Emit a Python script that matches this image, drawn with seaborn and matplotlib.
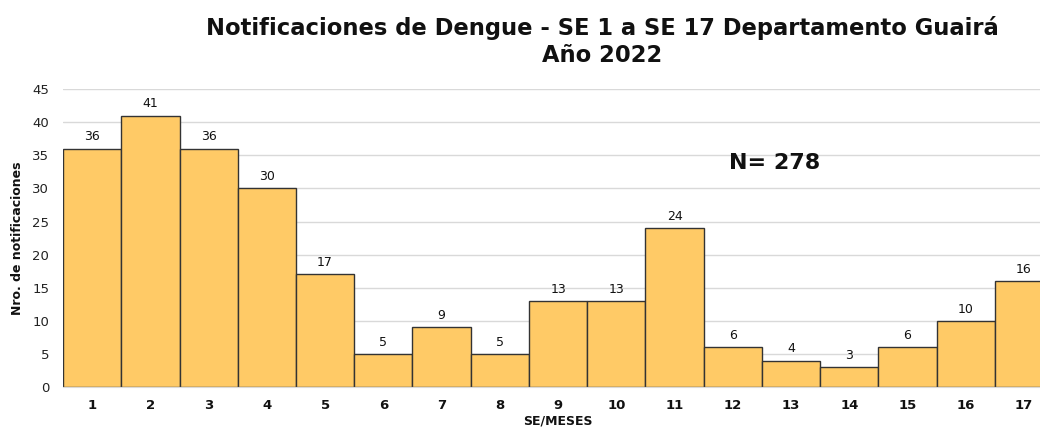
import matplotlib
matplotlib.use('Agg')
import matplotlib.pyplot as plt
import seaborn as sns
import pandas as pd

semanas = [str(i) for i in range(1, 18)]
notificaciones = [36, 41, 36, 30, 17, 5, 9, 5, 13, 13, 24, 6, 4, 3, 6, 10, 16]
total_texto = 'N= 278'

df = pd.DataFrame({'semana': semanas, 'casos': notificaciones})

sns.set_style('white')
plt.rcParams['font.family'] = ['DejaVu Sans']

fig = plt.figure(figsize=(10.4, 4.28), dpi=100)
ax = fig.add_axes([0.0606, 0.0958, 0.952, 0.696])

sns.barplot(data=df, x='semana', y='casos', color='#FFCA66', saturation=1,
            width=1.0, edgecolor='#333333', linewidth=1.0, ax=ax, zorder=2)

for i, v in enumerate(notificaciones):
    ax.text(i, v + 0.8, str(v), ha='center', va='bottom', fontsize=9, color='#111111')

ax.set_ylim(0, 45)
ax.set_yticks(range(0, 46, 5))
ax.yaxis.grid(True, color='#d9d9d9', linewidth=1, zorder=0)
ax.set_axisbelow(True)
for s in ['top', 'right', 'left']:
    ax.spines[s].set_visible(False)
ax.spines['bottom'].set_color('#d9d9d9')
ax.tick_params(axis='y', length=0, labelsize=9.5, labelcolor='#222222', pad=10)
ax.tick_params(axis='x', length=0, labelsize=9.5, labelcolor='#111111', pad=9)
for lbl in ax.get_xticklabels():
    lbl.set_fontweight('bold')

ax.set_ylabel('Nro. de notificaciones', fontsize=9, fontweight='bold', labelpad=6, color='#111111')
ax.set_xlabel('SE/MESES', fontsize=9, fontweight='bold', labelpad=1.5, color='#111111')

ax.text(11.72, 33.8, total_texto, ha='center', va='center', fontsize=16, fontweight='bold', color='#111111')

fig.text(0.579, 0.903, 'Notificaciones de Dengue - SE 1 a SE 17 Departamento Guairá\nAño 2022',
         ha='center', va='center', fontsize=16.3, fontweight='bold', linespacing=1.2, color='#111111')

fig.savefig('out.png', dpi=100)
